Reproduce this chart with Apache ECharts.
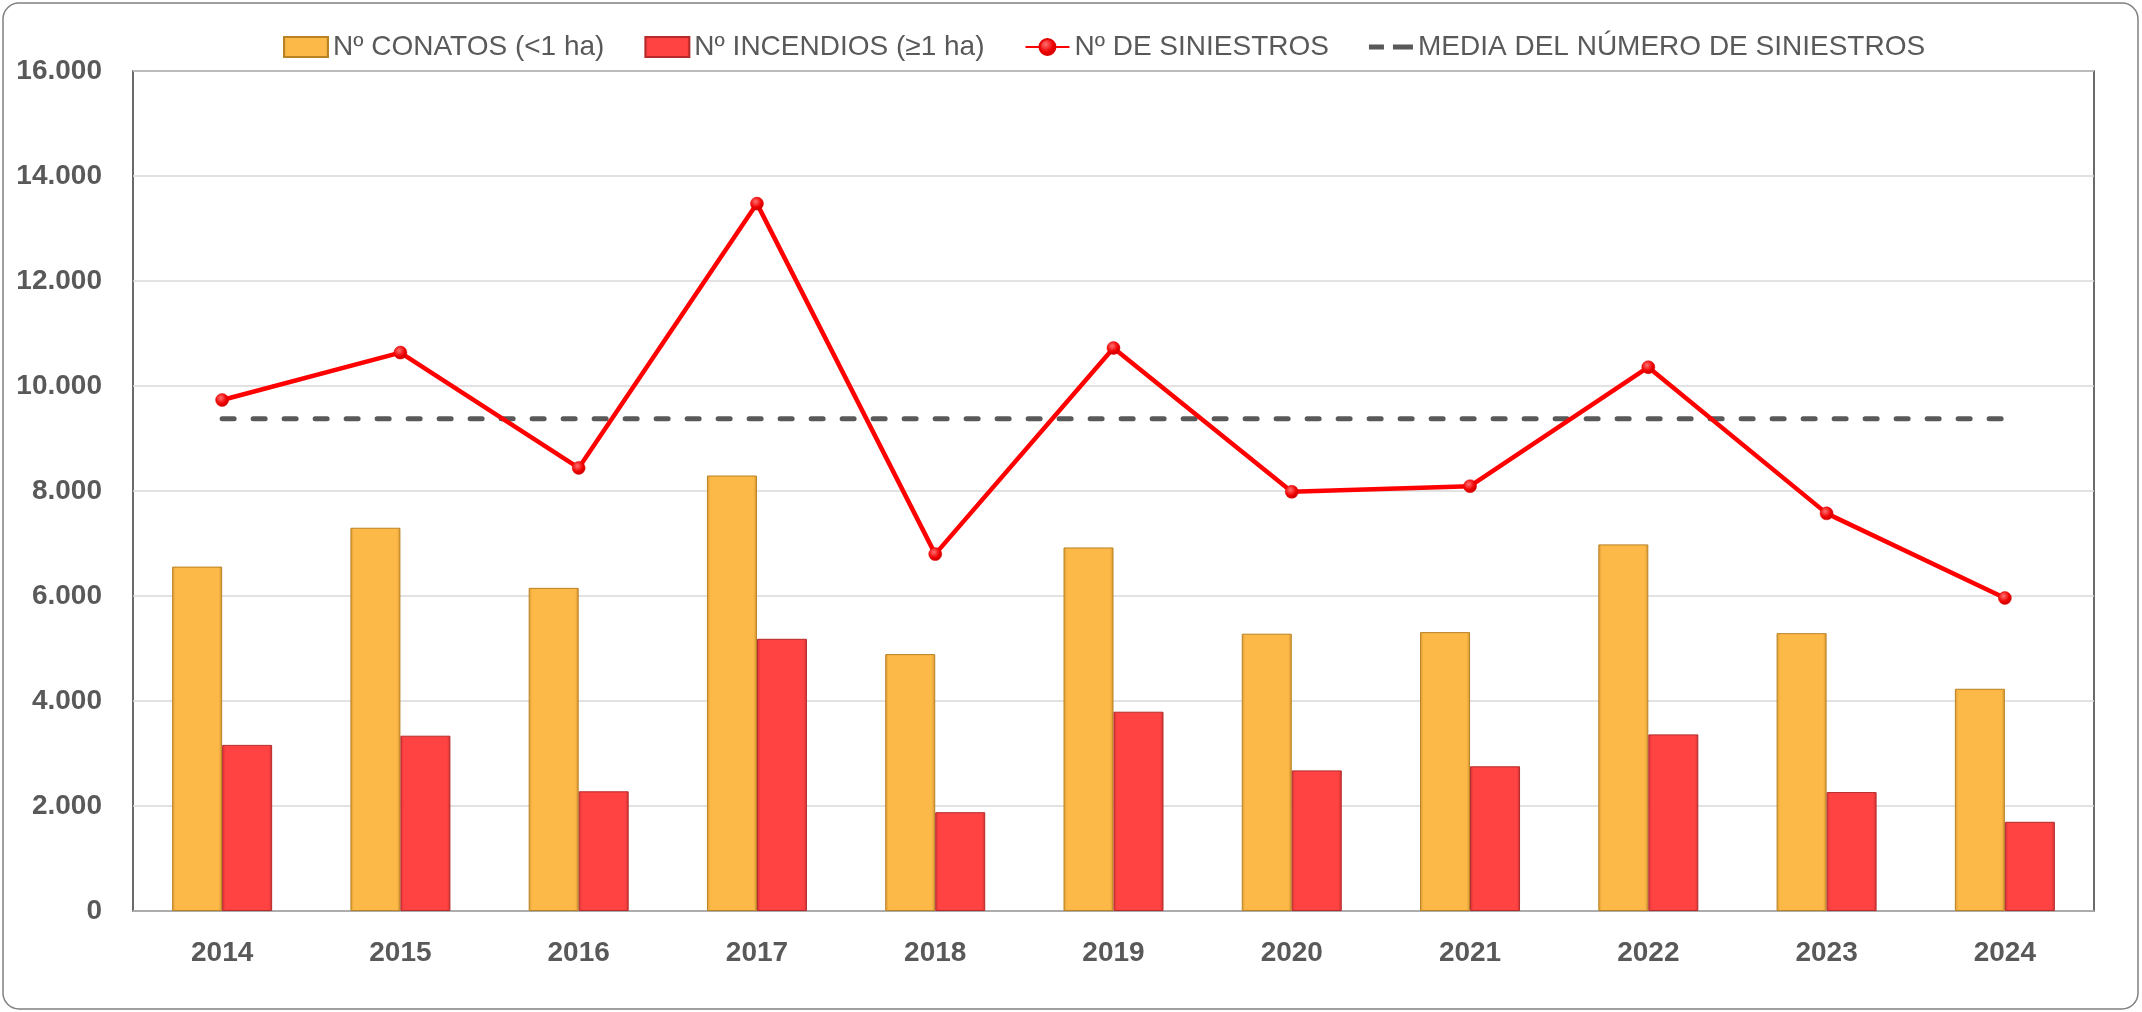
<!DOCTYPE html>
<html>
<head>
<meta charset="utf-8">
<script src="https://cdn.jsdelivr.net/npm/echarts@6/dist/echarts.min.js"></script>
<style>
html,body{margin:0;padding:0;background:#fff;}
#chart{width:2142px;height:1012px;}
</style>
</head>
<body>
<div id="chart"></div>
<script>
const years = ['2014','2015','2016','2017','2018','2019','2020','2021','2022','2023','2024'];
const conatos = [6560, 7300, 6155, 8295, 4893, 6925, 5282, 5312, 6983, 5292, 4233];
const incendios = [3164, 3339, 2280, 5185, 1882, 3796, 2678, 2756, 3364, 2265, 1699];
const siniestros = [9733, 10636, 8440, 13474, 6798, 10724, 7985, 8092, 10358, 7574, 5962];
const media = [9375, 9375, 9375, 9375, 9375, 9375, 9375, 9375, 9375, 9375, 9375];
const yTicks = [0, 2000, 4000, 6000, 8000, 10000, 12000, 14000, 16000];

const names = ['Nº CONATOS (<1 ha)', 'Nº INCENDIOS (≥1 ha)', 'Nº DE SINIESTROS', 'MEDIA DEL NÚMERO DE SINIESTROS'];
const FONT = '"Liberation Sans", Arial, sans-serif';
const TXT = '#595959';

function fmt(v) {
  return String(v).replace(/\B(?=(\d{3})+(?!\d))/g, '.');
}

const chart = echarts.init(document.getElementById('chart'), null, {renderer: 'canvas'});

const orangeGrad = new echarts.graphic.LinearGradient(0, 0, 1, 0, [
  {offset: 0, color: '#D99A34'},
  {offset: 0.07, color: '#FDB948'},
  {offset: 0.93, color: '#FDB948'},
  {offset: 1, color: '#D2932F'}
]);
const redGrad = new echarts.graphic.LinearGradient(0, 0, 1, 0, [
  {offset: 0, color: '#D63434'},
  {offset: 0.07, color: '#FF4242'},
  {offset: 0.93, color: '#FF4242'},
  {offset: 1, color: '#CF3333'}
]);
const dotGrad = new echarts.graphic.RadialGradient(0.4, 0.35, 0.7, [
  {offset: 0, color: '#FF7070'},
  {offset: 0.6, color: '#F00000'},
  {offset: 1, color: '#C00000'}
]);

const option = {
  backgroundColor: '#ffffff',
  animation: false,
  graphic: [{
    type: 'rect',
    shape: {x: 3, y: 3, width: 2135, height: 1006, r: 16},
    style: {fill: 'none', stroke: '#808080', lineWidth: 1.5},
    silent: true, z: -1
  }],
  legend: {
    top: 28,
    left: 278,
    itemGap: 40,
    itemWidth: 44,
    itemHeight: 20,
    textStyle: {fontFamily: FONT, fontSize: 28, color: TXT},
    data: [
      {name: names[0], icon: 'rect'},
      {name: names[1], icon: 'rect'},
      {name: names[2]},
      {name: names[3], icon: 'path://M0,0 L15,0 L15,5 L0,5 Z M24,0 L44,0 L44,5 L24,5 Z'}
    ]
  },
  grid: {
    left: 133, right: 48, top: 71, bottom: 101,
    show: true, borderColor: '#3A3A3A', borderWidth: 1.5, backgroundColor: 'transparent'
  },
  xAxis: {
    type: 'category',
    data: years,
    axisTick: {show: false},
    axisLine: {show: true, lineStyle: {color: '#A6A6A6', width: 1.5}},
    axisLabel: {fontFamily: FONT, fontSize: 28, fontWeight: 'bold', color: TXT, margin: 28}
  },
  yAxis: {
    type: 'value',
    min: yTicks[0],
    max: yTicks[yTicks.length - 1],
    interval: yTicks[1] - yTicks[0],
    axisLine: {show: false},
    axisTick: {show: false},
    splitLine: {lineStyle: {color: '#D9D9D9', width: 1.5}},
    axisLabel: {fontFamily: FONT, fontSize: 28, fontWeight: 'bold', color: TXT, margin: 31, formatter: fmt}
  },
  series: [
    {
      name: names[0], type: 'bar', data: conatos, barWidth: 50, barGap: '0%',
      itemStyle: {color: orangeGrad, borderColor: '#B98223', borderWidth: 1}
    },
    {
      name: names[1], type: 'bar', data: incendios, barWidth: 50, barGap: '0%',
      itemStyle: {color: redGrad, borderColor: '#B52A2A', borderWidth: 1}
    },
    {
      name: names[2], type: 'line', data: siniestros, z: 5,
      symbol: 'circle', symbolSize: 13,
      lineStyle: {color: '#FF0000', width: 4.5},
      itemStyle: {color: dotGrad, borderColor: '#E00000', borderWidth: 0.5}
    },
    {
      name: names[3], type: 'line', data: media, z: 4,
      symbol: 'none',
      lineStyle: {color: '#595959', width: 5, type: [12, 19], cap: 'round'},
      itemStyle: {color: '#595959'}
    }
  ]
};
chart.setOption(option);
</script>
</body>
</html>
